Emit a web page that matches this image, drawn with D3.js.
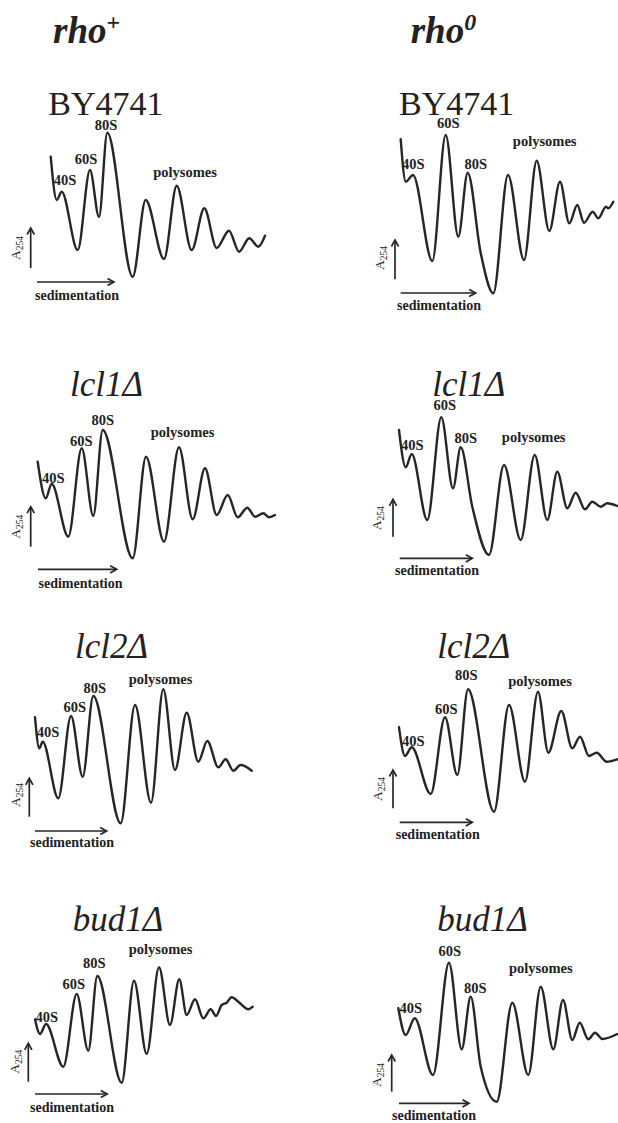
<!DOCTYPE html>
<html>
<head>
<meta charset="utf-8">
<script src="https://cdn.jsdelivr.net/npm/d3@7"></script>
<style>
  html, body { margin: 0; padding: 0; background: #fff; }
  svg { display: block; }
  text { fill: #222; }
</style>
</head>
<body>
<script>
// Polysome profiles: A254 against sedimentation position (arbitrary units)
const backgrounds = ["rho", "rho"];
const backgroundSup = ["+", "0"];
const strains = ["BY4741", "lcl1Δ", "lcl2Δ", "bud1Δ"];
const peakNames = ["40S", "60S", "80S", "polysomes"];

// [sedimentation, A254] traces, rho+ column
const rhoPlus_BY4741 = [[13.7,125.3],[19.7,82],[24.7,90.3],[40.7,32],[53,112],[62,65],[70.3,149.3],[95.7,5.3],[108.7,82],[127,23],[139.7,96.3],[154.7,32],[167.3,73.7],[179.7,34],[192,51.3],[202,30.3],[212.3,43.7],[221.3,35.3],[228,46.3]];
const rhoPlus_lcl1 = [[-0.3,107.6],[7.7,71],[13.7,85.3],[30.3,32.6],[43.7,121],[55.3,53.3],[64.7,139.3],[94.7,11],[108,112.6],[126,27.6],[141,122],[154.7,50],[167,101],[178.7,54.3],[189.7,74.3],[199.7,52],[209.3,61.6],[217,52.6],[225.3,56],[231.3,52],[237,54.3]];
const rhoPlus_lcl2 = [[0,113.7],[4.3,82.7],[7.7,89.3],[23.3,32.7],[36,115],[47.7,54.3],[58.3,135],[85.7,7.7],[100,126],[116,28.3],[128.3,141.7],[140,61],[151.7,118.3],[163.3,69.3],[172.3,90],[183.3,63.7],[190.7,71.7],[198.3,60.3],[205.7,66],[216.7,60.3]];
const rhoPlus_bud1 = [[0,74.7],[5,60],[11,70],[28.3,27.3],[41.7,100],[53.3,43.3],[62.3,118],[86.7,11.3],[99,113.3],[111.7,40],[124,126.7],[135,69],[144.3,114.7],[151.7,79],[160,94.7],[168.3,75.7],[175.7,84.7],[181,78],[186.7,89],[191.7,91.3],[196.7,96.7],[203.3,92.3],[213.3,84.7],[217.7,87.3]];

// [sedimentation, A254] traces, rho0 column
const rho0_BY4741 = [[0,153.7],[5,111.3],[12.3,118],[31.6,32],[45,158],[57.6,56.3],[67,120.3],[80,40],[92.6,-0.3],[107.3,118],[123.3,33],[136,132.3],[148.6,62],[159.3,111.3],[168.6,69.7],[176.6,88],[183.3,70.3],[192,81.3],[197.6,74.7],[205.3,86.3],[207.6,84.7],[212.6,91.3]];
const rho0_lcl1 = [[-0.7,128.3],[6,91],[12,104.3],[27.6,38.3],[41.6,141],[53.3,70],[61,111],[72.6,51.6],[89.3,3.3],[104.3,93.3],[121,18.3],[135,103.3],[147.6,38.3],[157.6,86.6],[167.6,50],[176,65.6],[185.3,49],[192.6,56.6],[201,51.6],[207.6,55],[217.6,52.3]];
const rho0_lcl2 = [[-0.7,95],[5.3,66.3],[12,75],[31,28.3],[45.3,105],[57.6,47.3],[68.3,133],[94.3,10.6],[109.3,117.3],[125.3,40.6],[138.3,130.6],[148.6,69.6],[161.6,111.3],[172.6,74],[180.3,85.6],[189.3,66.3],[197,69.6],[207,60.6],[217.6,63]];
const rho0_bud1 = [[-0.7,95],[6.7,68.3],[15.7,85],[34,28.3],[50,140.6],[62.7,54],[71.7,106.6],[81.7,36.6],[97.7,1.6],[113.3,100.6],[129.3,28.3],[141.7,116.6],[154.3,54],[164,103.3],[173.3,63.3],[180.7,80.6],[189.3,64],[196,70.6],[203.3,64.3],[218.3,69.3]];

const traces = [
  [rhoPlus_BY4741, rho0_BY4741],
  [rhoPlus_lcl1, rho0_lcl1],
  [rhoPlus_lcl2, rho0_lcl2],
  [rhoPlus_bud1, rho0_bud1]
];

// Panel frames: origin at start of the sedimentation arrow; label offsets from that origin
const layout = [
  [ // BY4741
    { left: 37, bottom: 282, title: [48.3, 115],
      peaks: [[28, -97], [49, -118.5], [69, -152], [148, -105.3]],
      yArrow: [-6.3, -14, -54], yLab: [-17, -34], sedLen: 77, sedLab: [40, 18] },
    { left: 400.7, bottom: 293, title: [399, 115],
      peaks: [[12.5, -124.5], [47.5, -165], [75, -124.5], [144, -147.3]],
      yArrow: [-5.7, -13.7, -53], yLab: [-17, -35], sedLen: 75, sedLab: [38.3, 17] }
  ],
  [ // lcl1Δ
    { left: 38, bottom: 569.3, title: [70, 396],
      peaks: [[15.3, -86.6], [43.3, -123.3], [64.8, -144.3], [144.5, -132]],
      yArrow: [-7.3, -22.6, -62.6], yLab: [-18, -42.6], sedLen: 78.7, sedLab: [42.5, 19] },
    { left: 399.7, bottom: 558.3, title: [432.3, 396],
      peaks: [[12.6, -108.3], [45.1, -148], [66, -115], [134, -116.6]],
      yArrow: [-6.7, -21.6, -59], yLab: [-18.4, -40], sedLen: 72.6, sedLab: [37.3, 16.7] }
  ],
  [ // lcl2Δ
    { left: 35, bottom: 831, title: [75, 658.3],
      peaks: [[13, -93.7], [39.7, -119.3], [59.7, -138.3], [125.5, -147]],
      yArrow: [-5.7, -14.3, -52.7], yLab: [-15, -36], sedLen: 71.7, sedLab: [37, 16.3] },
    { left: 399.7, bottom: 822.3, title: [437.3, 658.3],
      peaks: [[13.5, -76.3], [46.5, -108.3], [66.5, -142.3], [140.3, -136.3]],
      yArrow: [-6.7, -14, -52.3], yLab: [-17.7, -33.3], sedLen: 72.6, sedLab: [38, 17] }
  ],
  [ // bud1Δ
    { left: 35, bottom: 1094, title: [72.7, 930.7],
      peaks: [[11.7, -72.3], [38.8, -104.7], [59.2, -125.7], [125.5, -140]],
      yArrow: [-6.7, -12.3, -50.7], yLab: [-16, -32.3], sedLen: 72.3, sedLab: [37, 17.7] },
    { left: 399, bottom: 1103.3, title: [437.3, 930.7],
      peaks: [[11.7, -90.6], [50.8, -147.3], [76.2, -110], [141.8, -130]],
      yArrow: [-7.3, -11.6, -48.3], yLab: [-17.7, -28.3], sedLen: 70, sedLab: [35, 17] }
  ]
];

const W = 618, H = 1123;
const serif = "'Liberation Serif', 'Times New Roman', serif";
const ink = "#262626";

const svg = d3.select("body").append("svg")
  .attr("width", W).attr("height", H)
  .attr("viewBox", `0 0 ${W} ${H}`);

// column headers
const headerX = [53, 410.7];
backgrounds.forEach((b, i) => {
  const t = svg.append("text")
    .attr("x", headerX[i]).attr("y", 43)
    .attr("font-family", serif)
    .attr("font-size", 37)
    .attr("font-weight", "bold")
    .attr("font-style", "italic");
  t.append("tspan").text(b);
  t.append("tspan")
    .attr("dy", -13)
    .attr("font-size", 24)
    .attr("font-style", i === 0 ? "normal" : "italic")
    .text(backgroundSup[i]);
});

const line = d3.line().curve(d3.curveMonotoneX);

function chevron(g, x, y, dir) {
  // open arrow head; dir "up" or "right"
  const L = 6.5, Hh = 3.6;
  const d = dir === "up"
    ? `M${x - Hh},${y + L}L${x},${y}L${x + Hh},${y + L}`
    : `M${x - L},${y - Hh}L${x},${y}L${x - L},${y + Hh}`;
  g.append("path").attr("d", d)
    .attr("fill", "none").attr("stroke", ink)
    .attr("stroke-width", 1.7).attr("stroke-linejoin", "miter");
}

traces.forEach((row, r) => {
  row.forEach((trace, c) => {
    const p = layout[r][c];
    const g = svg.append("g");

    const x = d3.scaleLinear().domain([0, 100]).range([p.left, p.left + 100]);
    const y = d3.scaleLinear().domain([0, 100]).range([p.bottom, p.bottom - 100]);
    line.x(d => x(d[0])).y(d => y(d[1]));

    // strain name
    const isItalic = r > 0;
    g.append("text")
      .attr("x", p.title[0]).attr("y", p.title[1])
      .attr("font-family", serif)
      .attr("font-size", r === 0 ? 34 : 35)
      .attr("font-style", isItalic ? "italic" : "normal")
      .text(strains[r]);

    // profile trace
    g.append("path")
      .datum(trace)
      .attr("d", line)
      .attr("fill", "none")
      .attr("stroke", ink)
      .attr("stroke-width", 2.4)
      .attr("stroke-linejoin", "round")
      .attr("stroke-linecap", "round");

    // peak annotations
    peakNames.forEach((name, k) => {
      g.append("text")
        .attr("x", p.left + p.peaks[k][0])
        .attr("y", p.bottom + p.peaks[k][1])
        .attr("text-anchor", "middle")
        .attr("font-family", serif)
        .attr("font-weight", "bold")
        .attr("font-size", 14.5)
        .text(name);
    });

    // A254 axis arrow
    const ax = p.left + p.yArrow[0];
    g.append("line")
      .attr("x1", ax).attr("x2", ax)
      .attr("y1", p.bottom + p.yArrow[1]).attr("y2", p.bottom + p.yArrow[2] + 1)
      .attr("stroke", ink).attr("stroke-width", 1.7);
    chevron(g, ax, p.bottom + p.yArrow[2], "up");

    const yl = g.append("text")
      .attr("transform", `translate(${p.left + p.yLab[0]},${p.bottom + p.yLab[1]}) rotate(-90)`)
      .attr("text-anchor", "middle")
      .attr("font-family", serif)
      .attr("font-size", 13.5);
    yl.append("tspan").text("A");
    yl.append("tspan").attr("dy", 3).attr("font-size", 9.5).text("254");

    // sedimentation arrow
    g.append("line")
      .attr("x1", p.left).attr("x2", p.left + p.sedLen - 1)
      .attr("y1", p.bottom).attr("y2", p.bottom)
      .attr("stroke", ink).attr("stroke-width", 1.7);
    chevron(g, p.left + p.sedLen, p.bottom, "right");

    g.append("text")
      .attr("x", p.left + p.sedLab[0])
      .attr("y", p.bottom + p.sedLab[1])
      .attr("text-anchor", "middle")
      .attr("font-family", serif)
      .attr("font-weight", "bold")
      .attr("font-size", 14)
      .text("sedimentation");
  });
});
</script>
</body>
</html>
